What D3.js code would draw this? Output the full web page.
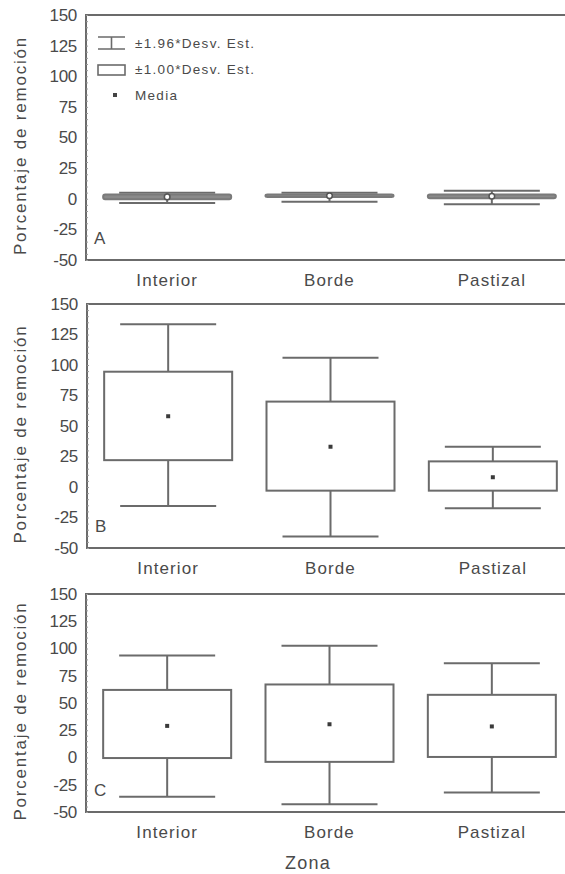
<!DOCTYPE html>
<html>
<head>
<meta charset="utf-8">
<script src="https://cdn.jsdelivr.net/npm/d3@7"></script>
<style>
    body { margin: 0; background: #fff; }
    svg { display: block; }
</style>
</head>
<body>
<div class="chart"></div>
<script>
const zonas = ["Interior", "Borde", "Pastizal"]
const ticksY = [150, 125, 100, 75, 50, 25, 0, -25, -50]

// Panel A (media, caja = ±1 desv., bigotes = ±1.96 desv.)
const mediaA = [1.5, 2.5, 2]
const cajaInfA = [-0.5, 1.5, 0.5]
const cajaSupA = [3.5, 3.5, 3.5]
const bigoteInfA = [-3.5, -2.5, -4.5]
const bigoteSupA = [5, 5, 6.5]

// Panel B
const mediaB = [58, 33, 8]
const cajaInfB = [22, -3, -3]
const cajaSupB = [94.5, 70, 21]
const bigoteInfB = [-15.5, -40.5, -17.5]
const bigoteSupB = [133.5, 106, 33]

// Panel C
const mediaC = [29, 30.5, 28.5]
const cajaInfC = [-0.5, -4, 0.5]
const cajaSupC = [62, 67, 57.5]
const bigoteInfC = [-36, -43, -32]
const bigoteSupC = [93.5, 102.5, 86.5]

const gris = "#6b6b6b"
const texto = "#4a4a4a"
const fuente = "'Liberation Sans', Arial, sans-serif"

const svg = d3.select(".chart").append("svg")
    .attr("width", 565)
    .attr("height", 874)

class Panel {
    constructor(_svg, _opts) {
        this.svg = _svg
        this.o = _opts
        this.g = this.svg.append("g")

        this.x = d3.scaleBand()
            .domain(zonas)
            .range([this.o.left, this.o.left + 487])
        this.y = d3.scaleLinear()
            .domain([-50, 150])
            .range([this.o.bottom, this.o.top])

        this.drawFrame()
        this.drawAxes()
        this.drawBoxes()
        this.g.append("text")
            .attr("x", this.o.left + 8)
            .attr("y", this.o.bottom - 16)
            .attr("font-family", fuente)
            .attr("font-size", 17)
            .attr("fill", texto)
            .text(this.o.label)
    }

    drawFrame() {
        const r = this.o.left + 487
        this.g.append("path")
            .attr("d", `M${r},${this.o.top}H${this.o.left}V${this.o.bottom}H${r}`)
            .attr("fill", "none")
            .attr("stroke", gris)
            .attr("stroke-width", 2)
    }

    drawAxes() {
        // ticks menores
        this.g.append("g")
            .attr("transform", `translate(${this.o.left},0)`)
            .call(d3.axisRight(this.y).tickValues(d3.range(-50, 151, 5)).tickSize(2).tickFormat(""))
            .call(g => g.select(".domain").remove())
            .call(g => g.selectAll("line").attr("stroke", "#9a9a9a"))

        const ay = this.g.append("g")
            .attr("transform", `translate(${this.o.left},0)`)
            .call(d3.axisLeft(this.y).tickValues(ticksY).tickSize(0).tickPadding(9).tickFormat(d => String(d)))
        ay.select(".domain").remove()
        ay.selectAll("text")
            .attr("font-family", fuente)
            .attr("font-size", 17)
            .attr("letter-spacing", -0.3)
            .attr("fill", texto)

        const ax = this.g.append("g")
            .attr("transform", `translate(0,${this.o.bottom})`)
            .call(d3.axisBottom(this.x).tickSize(0).tickPadding(14))
        ax.select(".domain").remove()
        ax.selectAll("text")
            .attr("font-family", fuente)
            .attr("font-size", 17)
            .attr("letter-spacing", 1.1)
            .attr("fill", texto)

        this.g.append("text")
            .attr("transform", `translate(22,${(this.o.top + this.o.bottom) / 2 + 8}) rotate(-90)`)
            .attr("text-anchor", "middle")
            .attr("dominant-baseline", "middle")
            .attr("font-family", fuente)
            .attr("font-size", 17)
            .attr("letter-spacing", 1.8)
            .attr("fill", texto)
            .text("Porcentaje de remoción")
    }

    drawBoxes() {
        const o = this.o
        const bw = 128, cw = 96
        const datos = zonas.map((z, i) => ({
            zona: z, media: o.media[i], cInf: o.cajaInf[i], cSup: o.cajaSup[i],
            bInf: o.bigoteInf[i], bSup: o.bigoteSup[i]
        }))
        const cx = d => this.x(d.zona) + this.x.bandwidth() / 2

        const grupos = this.g.selectAll(".box")
            .data(datos)
            .enter()
            .append("g")
            .attr("class", "box")
            .attr("stroke", gris)
            .attr("stroke-width", 2)
            .attr("fill", "none")

        // bigotes
        grupos.append("line")
            .attr("x1", cx).attr("x2", cx)
            .attr("y1", d => this.y(d.bSup)).attr("y2", d => this.y(d.cSup))
        grupos.append("line")
            .attr("x1", cx).attr("x2", cx)
            .attr("y1", d => this.y(d.cInf)).attr("y2", d => this.y(d.bInf))
        grupos.append("line")
            .attr("x1", d => cx(d) - cw / 2).attr("x2", d => cx(d) + cw / 2)
            .attr("y1", d => this.y(d.bSup)).attr("y2", d => this.y(d.bSup))
        grupos.append("line")
            .attr("x1", d => cx(d) - cw / 2).attr("x2", d => cx(d) + cw / 2)
            .attr("y1", d => this.y(d.bInf)).attr("y2", d => this.y(d.bInf))

        // caja
        grupos.append("rect")
            .attr("x", d => cx(d) - bw / 2)
            .attr("width", bw)
            .attr("y", d => this.y(d.cSup))
            .attr("height", d => this.y(d.cInf) - this.y(d.cSup))
            .attr("rx", o.small ? 2 : 0)
            .attr("fill", o.small ? "#8a8a8a" : "#fff")
            .attr("stroke", o.small ? "#7a7a7a" : gris)

        // media
        if (o.small) {
            grupos.append("circle")
                .attr("cx", cx)
                .attr("cy", d => this.y(d.media))
                .attr("r", 2.8)
                .attr("fill", "#fff")
                .attr("stroke", "#555")
                .attr("stroke-width", 1.5)
        } else {
            grupos.append("rect")
                .attr("x", d => cx(d) - 2)
                .attr("y", d => this.y(d.media) - 2)
                .attr("width", 4).attr("height", 4)
                .attr("fill", "#3a3a3a")
                .attr("stroke", "none")
        }
    }
}

new Panel(svg, {
    top: 15, bottom: 260, left: 86, label: "A", small: true,
    media: mediaA, cajaInf: cajaInfA, cajaSup: cajaSupA, bigoteInf: bigoteInfA, bigoteSup: bigoteSupA
})
new Panel(svg, {
    top: 304, bottom: 548, left: 87, label: "B",
    media: mediaB, cajaInf: cajaInfB, cajaSup: cajaSupB, bigoteInf: bigoteInfB, bigoteSup: bigoteSupB
})
new Panel(svg, {
    top: 594, bottom: 812, left: 86, label: "C",
    media: mediaC, cajaInf: cajaInfC, cajaSup: cajaSupC, bigoteInf: bigoteInfC, bigoteSup: bigoteSupC
})

// leyenda (panel A)
const ley = svg.append("g")
    .attr("stroke", gris)
    .attr("stroke-width", 1.6)
    .attr("fill", "none")
ley.append("path").attr("d", "M98,37H125M98,49H125M111.5,37V49")
ley.append("rect").attr("x", 98).attr("y", 65).attr("width", 27).attr("height", 10)
ley.append("rect").attr("x", 113).attr("y", 93).attr("width", 4).attr("height", 4)
    .attr("fill", "#444").attr("stroke", "none")

svg.append("g")
    .selectAll("text")
    .data(["±1.96*Desv. Est.", "±1.00*Desv. Est.", "Media"])
    .enter()
    .append("text")
    .attr("x", 135)
    .attr("y", (d, i) => 48 + i * 26)
    .attr("font-family", fuente)
    .attr("font-size", 13.5)
    .attr("letter-spacing", 1.3)
    .attr("fill", texto)
    .text(d => d)

svg.append("text")
    .attr("x", 308)
    .attr("y", 869)
    .attr("text-anchor", "middle")
    .attr("font-family", fuente)
    .attr("font-size", 18)
    .attr("letter-spacing", 1.2)
    .attr("fill", texto)
    .text("Zona")
</script>
</body>
</html>
